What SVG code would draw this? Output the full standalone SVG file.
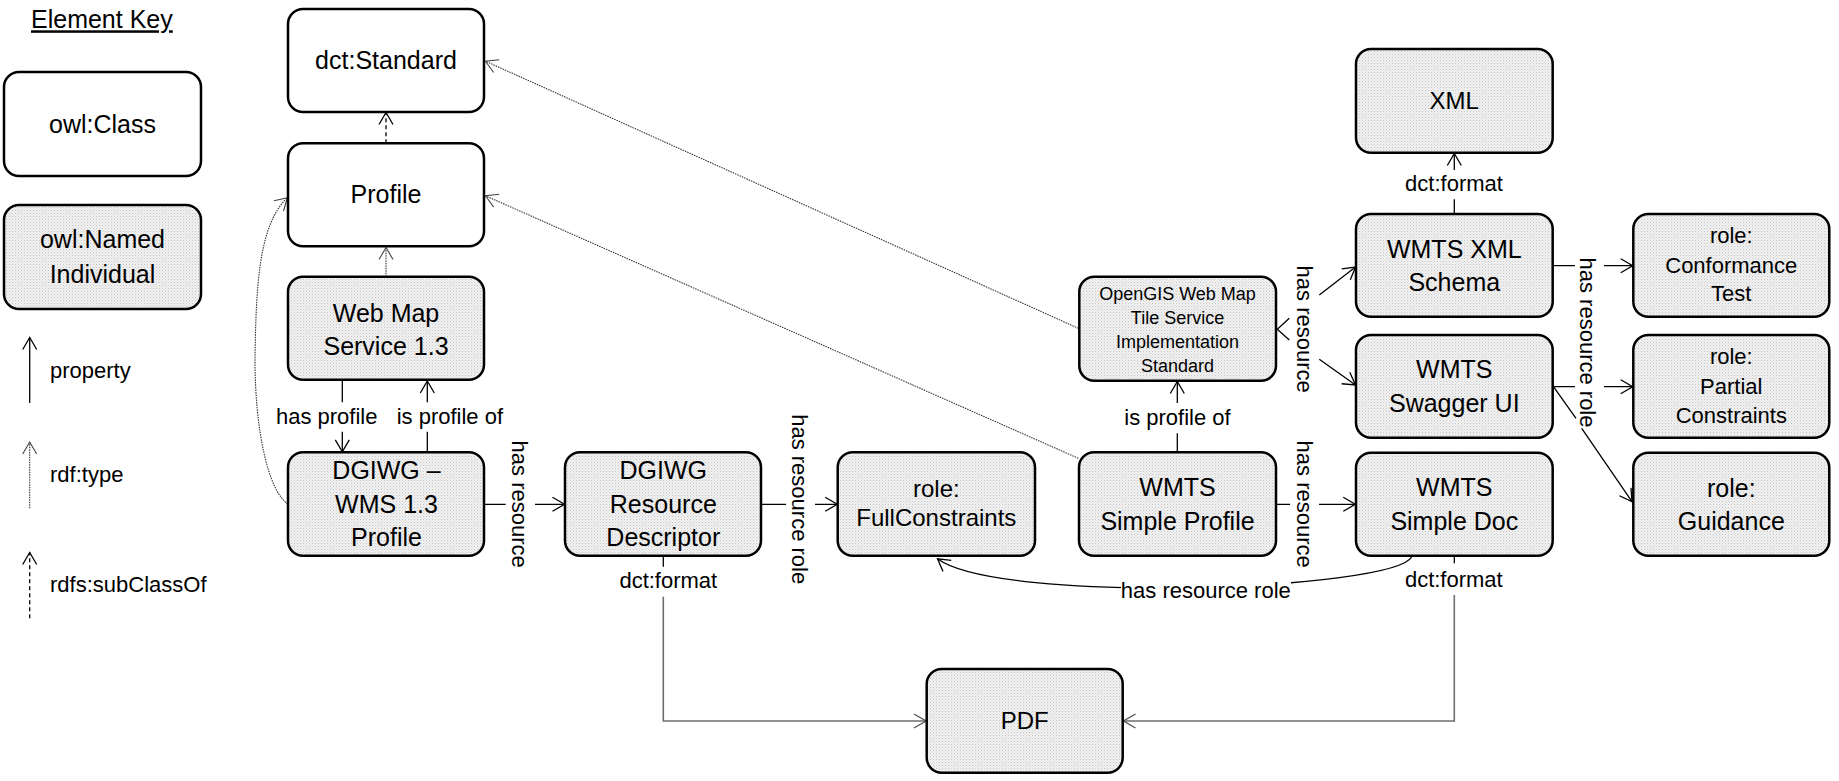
<svg xmlns="http://www.w3.org/2000/svg" width="1839" height="781" viewBox="0 0 1839 781">
<style>
text{font-family:"Liberation Sans",Arial,sans-serif;fill:#000}
.n{font-size:25px;text-anchor:middle}
.r{font-size:22px;text-anchor:middle}
.s{font-size:18px;text-anchor:middle}
.l{font-size:22px}
.lc{font-size:22px;text-anchor:middle}
.cls{fill:#fff;stroke:#000;stroke-width:2.5}
.ind{fill:url(#dots);stroke:#000;stroke-width:2.5}
.p{fill:none;stroke:#000;stroke-width:1.3}
.t{fill:none;stroke:#333;stroke-width:1.1;stroke-dasharray:1.5 1}
.sc{fill:none;stroke:#000;stroke-width:1.3;stroke-dasharray:4 3}
.e{fill:none;stroke:#6e6e6e;stroke-width:1.6}
</style>
<defs>
<pattern id="dots" width="3" height="3" patternUnits="userSpaceOnUse"><rect width="3" height="3" fill="#f1f1f1"/><rect width="1" height="1" fill="#c6c6c6"/><rect x="1.5" y="1.5" width="1" height="1" fill="#d6d6d6"/></pattern>
<marker id="ap" markerUnits="userSpaceOnUse" markerWidth="20" markerHeight="20" viewBox="-14 -10 16 20" refX="0" refY="0" orient="auto"><path d="M-12,-7 L0,0 L-12,7" fill="none" stroke="#000" stroke-width="1.3"/></marker>
<marker id="at" markerUnits="userSpaceOnUse" markerWidth="20" markerHeight="20" viewBox="-14 -10 16 20" refX="0" refY="0" orient="auto"><path d="M-12,-7 L0,0 L-12,7" fill="none" stroke="#444" stroke-width="1.1"/></marker>
<marker id="ae" markerUnits="userSpaceOnUse" markerWidth="20" markerHeight="20" viewBox="-14 -10 16 20" refX="0" refY="0" orient="auto"><path d="M-12,-7 L0,0 L-12,7" fill="none" stroke="#555" stroke-width="1.4"/></marker>
</defs>
<rect width="1839" height="781" fill="#fff"/>

<g id="legend">
<text x="31" y="28.3" style="font-size:25px;text-decoration:underline">Element Key</text>
<rect class="cls" x="4" y="72" width="197" height="104" rx="15"/>
<text class="n" x="102.5" y="132.7">owl:Class</text>
<rect class="ind" x="4" y="205" width="197" height="104" rx="15"/>
<text class="n" x="102.5" y="248">owl:Named</text>
<text class="n" x="102.5" y="282.7">Individual</text>
<path class="p" d="M29.7,403 L29.7,337.5" marker-end="url(#ap)"/>
<text class="l" x="50" y="378">property</text>
<path class="t" d="M29.7,508.3 L29.7,442" marker-end="url(#at)"/>
<text class="l" x="50" y="481.7">rdf:type</text>
<path class="sc" d="M29.7,618.3 L29.7,552.5" marker-end="url(#ap)"/>
<text class="l" x="50" y="591.7">rdfs:subClassOf</text>
</g>

<g id="connectors">
<path class="sc" d="M386,143.3 L386,112.5" marker-end="url(#ap)"/>
<path class="t" d="M386,276.7 L386,247.5" marker-end="url(#at)"/>
<path class="t" d="M287.7,504 C268,490 255,430 255,360 C256,290 258,225 287.5,197.7" marker-end="url(#at)"/>
<path class="p" d="M342.3,380.5 L342.3,402.3 M342.3,431.7 L342.3,451.8" marker-end="url(#ap)"/>
<text class="lc" x="326.7" y="424.3">has profile</text>
<path class="p" d="M427.3,452.3 L427.3,431.7 M427.3,402.3 L427.3,381" marker-end="url(#ap)"/>
<text class="l" x="396.7" y="424.3">is profile of</text>
<path class="p" d="M484,504.3 L505.7,504.3 M535,504.3 L564.5,504.3" marker-end="url(#ap)"/>
<text class="lc" transform="translate(512,504.2) rotate(90)">has resource</text>
<path class="p" d="M761,504.3 L786,504.3 M815,504.3 L837.2,504.3" marker-end="url(#ap)"/>
<text class="lc" transform="translate(792,499.2) rotate(90)">has resource role</text>
<path class="p" d="M663.3,555.7 L663.3,566.7"/>
<text class="lc" x="668.3" y="587.7">dct:format</text>
<path class="e" d="M663.3,596.7 L663.3,721 L926,721" marker-end="url(#ae)"/>
<path class="p" d="M1454.3,555.7 L1454.3,563.3"/>
<text class="lc" x="1453.8" y="586.7">dct:format</text>
<path class="e" d="M1454.3,595 L1454.3,721 L1123.5,721" marker-end="url(#ae)"/>
<path class="p" d="M1411.7,556.7 C1395,590 1000,605 937.5,558.8" marker-end="url(#ap)"/>
<rect x="1121" y="578" width="170" height="26" fill="#fff"/>
<text class="lc" x="1205.8" y="598.3">has resource role</text>
<path class="p" d="M1177.3,452.3 L1177.3,433.3 M1177.3,403 L1177.3,381.5" marker-end="url(#ap)"/>
<text class="lc" x="1177.5" y="425">is profile of</text>
<path class="p" d="M1276,504.3 L1290,504.3 M1319,504.3 L1355.3,504.3" marker-end="url(#ap)"/>
<text class="lc" transform="translate(1296.5,504.2) rotate(90)">has resource</text>
<path class="t" d="M1078.3,458.3 L485.5,195.8" marker-end="url(#at)"/>
<path class="t" d="M1078.3,328.3 L485.5,61.2" marker-end="url(#at)"/>
<path class="p" d="M1289.3,318.3 L1277.3,329.3 L1289.3,340"/>
<path class="p" d="M1319.3,295 L1355.5,267" marker-end="url(#ap)"/>
<path class="p" d="M1319.3,359.3 L1355.5,385" marker-end="url(#ap)"/>
<text class="lc" transform="translate(1296.5,329.2) rotate(90)">has resource</text>
<path class="p" d="M1454.3,214 L1454.3,199.3 M1454.3,170 L1454.3,153.5" marker-end="url(#ap)"/>
<text class="lc" x="1454" y="191">dct:format</text>
<path class="p" d="M1552.7,265.7 L1575,265.7 M1604,265.7 L1632.7,265.7" marker-end="url(#ap)"/>
<path class="p" d="M1552.7,386.7 L1575,386.7 M1604,386.7 L1632.7,386.7" marker-end="url(#ap)"/>
<path class="p" d="M1554,387.3 L1576,418.3 M1581.7,428.3 L1632,501.7" marker-end="url(#ap)"/>
<text class="lc" transform="translate(1580,342.5) rotate(90)">has resource role</text>
</g>

<g id="dct-standard"><rect class="cls" x="288" y="9" width="196" height="103" rx="15"/><text class="n" x="386" y="69.3">dct:Standard</text></g>
<g id="profile"><rect class="cls" x="288" y="143.3" width="196" height="103" rx="15"/><text class="n" x="386" y="203.3">Profile</text></g>
<g id="wms13"><rect class="ind" x="288" y="276.7" width="196" height="103" rx="15"/><text class="n" x="386" y="321.7">Web Map</text><text class="n" x="386" y="355">Service 1.3</text></g>
<g id="dgiwg-wms-profile"><rect class="ind" x="288" y="452.3" width="196" height="103.4" rx="15"/><text class="n" x="386.5" y="479.3">DGIWG –</text><text class="n" x="386.5" y="513.3">WMS 1.3</text><text class="n" x="386.5" y="546">Profile</text></g>
<g id="dgiwg-resource-descriptor"><rect class="ind" x="565" y="452.3" width="196" height="103.4" rx="15"/><text class="n" x="663.3" y="479.3">DGIWG</text><text class="n" x="663.3" y="513.3">Resource</text><text class="n" x="663.3" y="546">Descriptor</text></g>
<g id="role-fullconstraints"><rect class="ind" x="837.7" y="452.3" width="197.3" height="103.4" rx="15"/><text class="n" style="font-size:24px" x="936.3" y="497.3">role:</text><text class="n" style="font-size:24px" x="936.3" y="526">FullConstraints</text></g>
<g id="wmts-simple-profile"><rect class="ind" x="1079" y="452.3" width="197" height="103.4" rx="15"/><text class="n" x="1177.5" y="496">WMTS</text><text class="n" x="1177.5" y="530">Simple Profile</text></g>
<g id="opengis-wmts"><rect class="ind" x="1079.3" y="276.7" width="196.7" height="104" rx="15"/><text class="s" x="1177.5" y="300">OpenGIS Web Map</text><text class="s" x="1177.5" y="324">Tile Service</text><text class="s" x="1177.5" y="347.7">Implementation</text><text class="s" x="1177.5" y="371.7">Standard</text></g>
<g id="xml"><rect class="ind" x="1356" y="49" width="196.7" height="103.7" rx="15"/><text class="n" style="font-size:24px" x="1454.3" y="109.3">XML</text></g>
<g id="wmts-xml-schema"><rect class="ind" x="1356" y="214" width="196.7" height="102.7" rx="15"/><text class="n" x="1454.3" y="257.7">WMTS XML</text><text class="n" x="1454.3" y="291">Schema</text></g>
<g id="wmts-swagger-ui"><rect class="ind" x="1356" y="335" width="196.7" height="102.7" rx="15"/><text class="n" x="1454.3" y="377.7">WMTS</text><text class="n" x="1454.3" y="412.3">Swagger UI</text></g>
<g id="wmts-simple-doc"><rect class="ind" x="1356" y="452.7" width="196.7" height="103" rx="15"/><text class="n" x="1454.3" y="496">WMTS</text><text class="n" x="1454.3" y="530">Simple Doc</text></g>
<g id="role-conformance-test"><rect class="ind" x="1633.3" y="214" width="196" height="102.7" rx="15"/><text class="r" x="1731.3" y="243.3">role:</text><text class="r" x="1731.3" y="272.7">Conformance</text><text class="r" x="1731.3" y="301">Test</text></g>
<g id="role-partial-constraints"><rect class="ind" x="1633.3" y="335" width="196" height="102.7" rx="15"/><text class="r" x="1731.3" y="364.3">role:</text><text class="r" x="1731.3" y="393.7">Partial</text><text class="r" x="1731.3" y="422.7">Constraints</text></g>
<g id="role-guidance"><rect class="ind" x="1633.3" y="452.7" width="196" height="103" rx="15"/><text class="n" x="1731.3" y="496.7">role:</text><text class="n" x="1731.3" y="530">Guidance</text></g>
<g id="pdf"><rect class="ind" x="926.7" y="669" width="196" height="103.7" rx="15"/><text class="n" style="font-size:24px" x="1024.7" y="729.3">PDF</text></g>
</svg>
